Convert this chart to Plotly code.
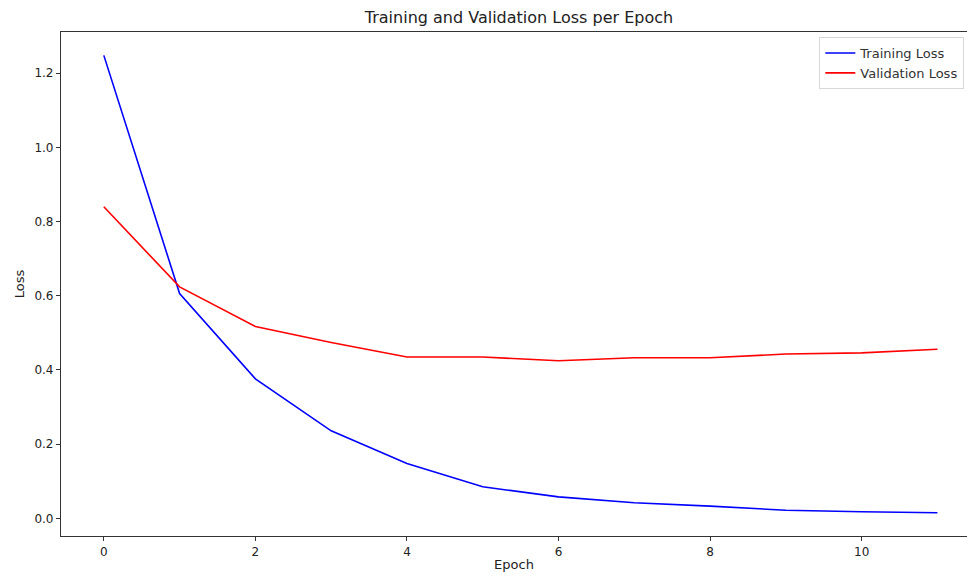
import plotly.graph_objects as go

epochs = [0, 1, 2, 3, 4, 5, 6, 7, 8, 9, 10, 11]
training_loss = [1.248, 0.606, 0.376, 0.236, 0.148, 0.085, 0.058, 0.042, 0.033, 0.022, 0.018, 0.015]
validation_loss = [0.840, 0.624, 0.517, 0.474, 0.435, 0.435, 0.425, 0.433, 0.433, 0.443, 0.446, 0.456]
x_ticks = [0, 2, 4, 6, 8, 10]
y_ticks = [0.0, 0.2, 0.4, 0.6, 0.8, 1.0, 1.2]

font_family = "DejaVu Sans"

fig = go.Figure()
fig.add_trace(go.Scatter(x=epochs, y=training_loss, mode="lines", name="Training Loss",
                         line=dict(color="blue", width=1.6)))
fig.add_trace(go.Scatter(x=epochs, y=validation_loss, mode="lines", name="Validation Loss",
                         line=dict(color="red", width=1.6)))

fig.update_layout(
    width=967, height=577,
    margin=dict(l=61, r=0, t=32, b=41),
    paper_bgcolor="white", plot_bgcolor="white",
    font=dict(family=font_family, size=12, color="#222"),
    title=dict(text="Training and Validation Loss per Epoch", x=0.5055, xref="paper",
               xanchor="center", y=1 - 17 / 577, yref="container", yanchor="middle",
               font=dict(size=16, color="#222")),
    showlegend=True,
    legend=dict(x=0.837, y=0.99, xanchor="left", yanchor="top",
                bgcolor="rgba(255,255,255,0.8)", bordercolor="#d8d8d8", borderwidth=1,
                font=dict(size=13, color="#333"), tracegroupgap=0, itemwidth=30),
)
fig.update_xaxes(range=[-0.565, 11.39], tickvals=x_ticks, ticks="outside", ticklen=4,
                 tickcolor="#333", showline=True, linecolor="#333", linewidth=1.2,
                 mirror=True, showgrid=False, zeroline=False, tickfont=dict(size=12),
                 title=dict(text="Epoch", standoff=2, font=dict(size=13)))
fig.update_yaxes(range=[-0.0475, 1.311], tickvals=y_ticks, tickformat=".1f", ticks="outside",
                 ticklen=4, tickcolor="#333", showline=True, linecolor="#333", linewidth=1.2,
                 showgrid=False, zeroline=False, tickfont=dict(size=12),
                 title=dict(text="Loss", standoff=6, font=dict(size=13)))

fig.write_html("out.html", config={"displayModeBar": False},
               post_script="document.body.style.margin='0';document.body.style.padding='0';document.body.style.overflow='hidden';")
